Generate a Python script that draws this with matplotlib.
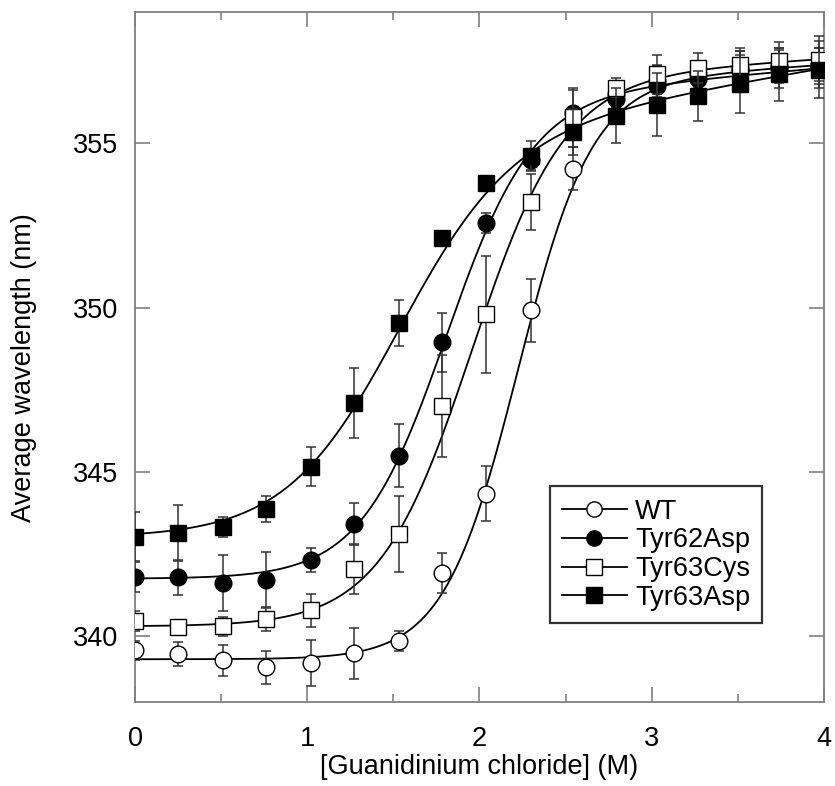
import numpy as np
import matplotlib
matplotlib.use("Agg")
import matplotlib.pyplot as plt
from matplotlib.ticker import MultipleLocator

plt.rcParams['font.family'] = ['Liberation Sans', 'DejaVu Sans']

# GdnCl concentrations (M)
conc = [0.0, 0.25, 0.51, 0.76, 1.02, 1.27, 1.53, 1.78, 2.04, 2.30, 2.54, 2.79, 3.03, 3.27, 3.51, 3.74, 3.97]

wt_y = [339.57, 339.45, 339.27, 339.05, 339.18, 339.48, 339.85, 341.92, 344.34, 349.92, 354.23, 356.5, 356.9, 357.1, 357.3, 357.35, 357.4]
wt_err = [0.3, 0.37, 0.47, 0.5, 0.7, 0.78, 0.3, 0.6, 0.84, 0.96, 0.65, 0.4, 0.5, 0.4, 0.5, 0.5, 0.5]

y62d_y = [341.80, 341.79, 341.62, 341.71, 342.32, 343.42, 345.49, 348.95, 352.58, 354.5, 355.94, 356.35, 356.75, 356.97, 357.2, 357.3, 357.3]
y62d_err = [0.45, 0.52, 0.84, 0.84, 0.37, 0.65, 0.96, 0.9, 0.3, 0.3, 0.7, 0.5, 0.6, 0.5, 0.6, 0.6, 0.6]

y63c_y = [340.46, 340.28, 340.30, 340.52, 340.79, 342.05, 343.11, 347.02, 349.8, 353.22, 355.8, 356.7, 357.1, 357.3, 357.4, 357.5, 357.55]
y63c_err = [0.3, 0.2, 0.28, 0.36, 0.5, 0.75, 1.15, 1.55, 1.78, 0.85, 0.9, 0.3, 0.6, 0.45, 0.5, 0.6, 0.73]

y63d_y = [343.03, 343.14, 343.33, 343.88, 345.16, 347.11, 349.53, 352.13, 353.8, 354.62, 355.36, 355.85, 356.18, 356.43, 356.8, 357.1, 357.25]
y63d_err = [0.75, 0.85, 0.3, 0.4, 0.6, 1.07, 0.7, 0.15, 0.1, 0.45, 0.7, 0.85, 0.95, 0.76, 0.88, 0.8, 0.88]

labels = ["WT", "Tyr62Asp", "Tyr63Cys", "Tyr63Asp"]

# two-state fit parameters: native baseline, denatured intercept, denatured slope, midpoint, width
fit_wt = (339.3, 356.0, 0.35, 2.22, 0.215)
fit_62d = (341.75, 355.5, 0.45, 1.80, 0.25)
fit_63c = (340.3, 356.3, 0.32, 1.95, 0.27)
fit_63d = (343.0, 353.7, 0.90, 1.50, 0.33)


def two_state(x, p):
    yn, yd0, sd, cm, w = p
    f = 1.0 / (1.0 + np.exp((cm - x) / w))
    return yn + ((yd0 + sd * x) - yn) * f


fig = plt.figure(figsize=(8.35, 7.86), dpi=100)
ax = fig.add_axes([0.1617, 0.1069, 0.8251, 0.8778])

xs = np.linspace(0, 4, 400)
series = [
    (wt_y, wt_err, fit_wt, 'o', 'white'),
    (y62d_y, y62d_err, fit_62d, 'o', 'black'),
    (y63c_y, y63c_err, fit_63c, 's', 'white'),
    (y63d_y, y63d_err, fit_63d, 's', 'black'),
]

handles = []
for i, (yv, ev, fp, mk, fc) in enumerate(series):
    ax.plot(xs, two_state(xs, fp), color='black', lw=1.3, zorder=2 + i * 3)
    ax.errorbar(conc, yv, yerr=ev, fmt='none', ecolor='#333333', elinewidth=1.1,
                capsize=3.8, capthick=1.1, zorder=3 + i * 3)
    ms = 12 if mk == 'o' else 11.5
    ax.plot(conc, yv, linestyle='none', marker=mk, markersize=ms,
            markerfacecolor=fc, markeredgecolor='black', markeredgewidth=1.0,
            zorder=4 + i * 3)
    h, = ax.plot([], [], color='black', lw=1.3, marker=mk, markersize=11,
                 markerfacecolor=fc, markeredgecolor='black', markeredgewidth=1.0)
    handles.append(h)

ax.set_xlim(0, 4)
ax.set_ylim(338, 359)
ax.xaxis.set_major_locator(MultipleLocator(1))
ax.xaxis.set_minor_locator(MultipleLocator(0.5))
ax.yaxis.set_major_locator(MultipleLocator(5))

for s in ax.spines.values():
    s.set_color('#808080')
    s.set_linewidth(1.3)

ax.tick_params(which='both', direction='in', top=True, right=True, color='#808080', width=1.2,
               labelsize=19.5)
ax.tick_params(which='major', length=11)
ax.tick_params(which='minor', length=6)
ax.tick_params(axis='y', pad=12)
ax.tick_params(axis='x', pad=17)

ax.set_xlabel('[Guanidinium chloride] (M)', fontsize=19.5, labelpad=2)
ax.set_ylabel('Average wavelength (nm)', fontsize=19.5)
ax.yaxis.set_label_coords(-0.142, 0.485)

leg = ax.legend(handles, labels, loc='lower left', bbox_to_anchor=(0.602, 0.1145),
                fontsize=19.5, frameon=True, fancybox=False, handlelength=2.4,
                handletextpad=0.3, labelspacing=0.1, borderpad=0.45, borderaxespad=0)
leg.get_frame().set_edgecolor('black')
leg.get_frame().set_linewidth(1.6)

fig.savefig('out.png', dpi=100)
